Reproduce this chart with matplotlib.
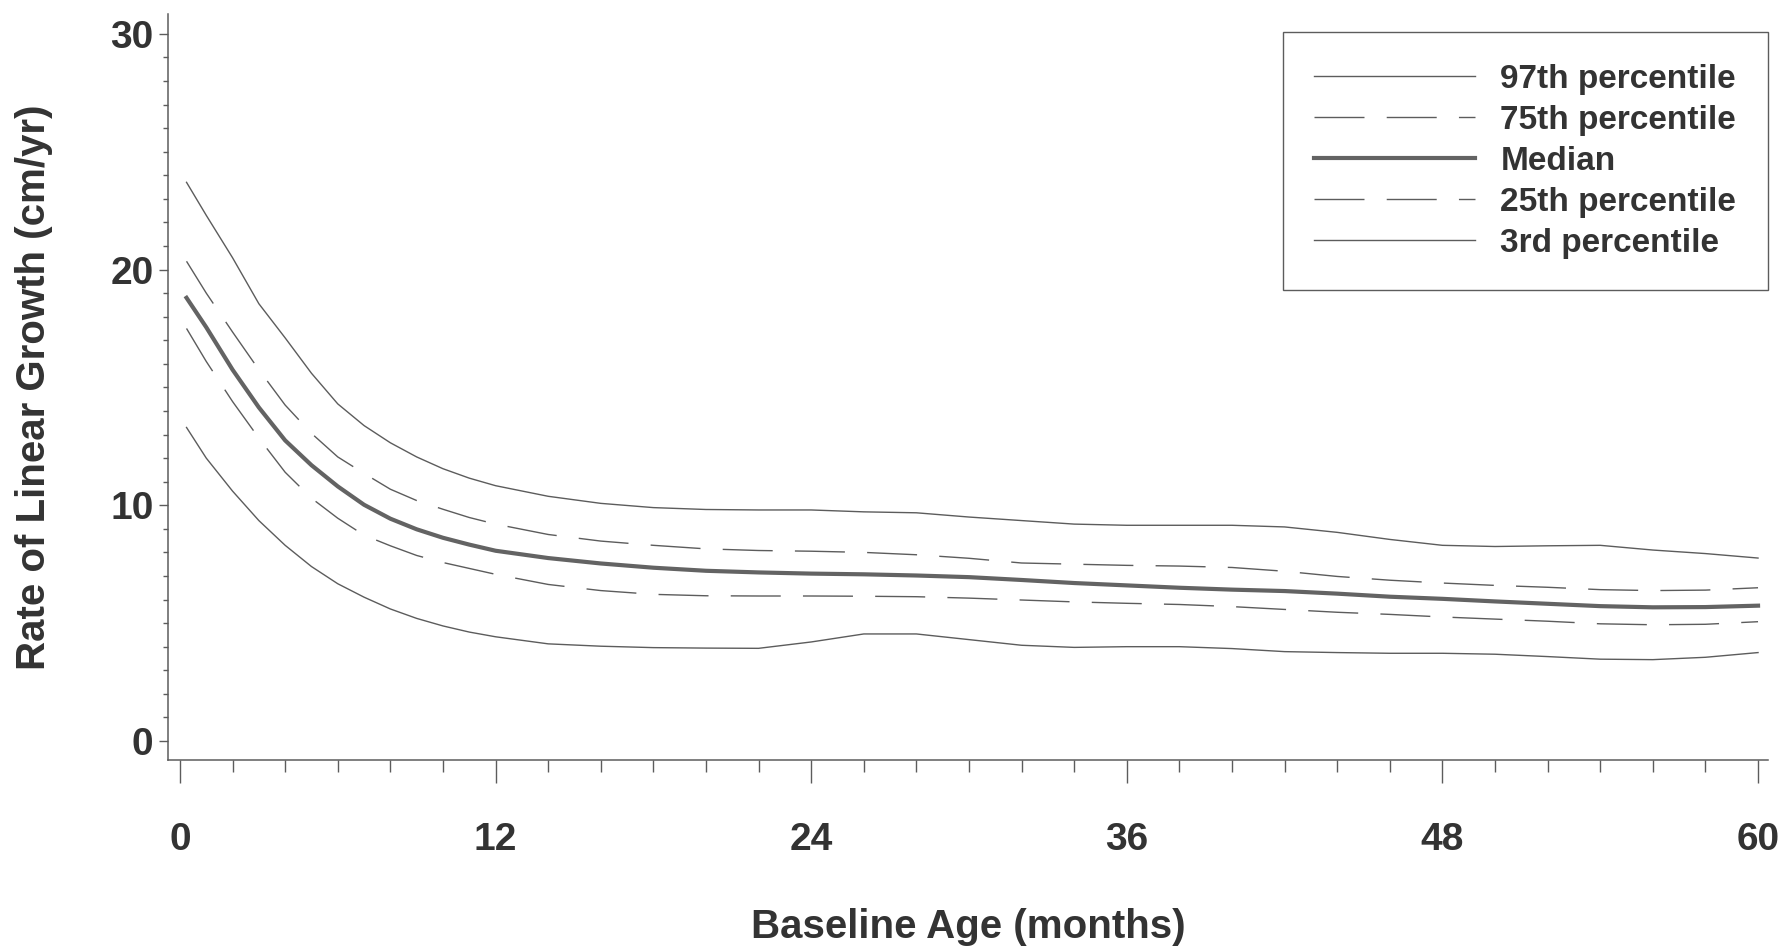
import matplotlib
matplotlib.use('Agg')
import matplotlib.pyplot as plt
from matplotlib.ticker import MultipleLocator

# baseline age (months)
months = [0.25, 1, 2, 3, 4, 5, 6, 7, 8, 9, 10, 11, 12, 14, 16, 18, 20, 22, 24,
          26, 28, 30, 32, 34, 36, 38, 40, 42, 44, 46, 48, 50, 52, 54, 56, 58, 60]

# rate of linear growth (cm/yr)
p97 = [23.7, 22.3, 20.5, 18.55, 17.1, 15.6, 14.3, 13.38, 12.65, 12.05, 11.55, 11.15, 10.83,
       10.38, 10.08, 9.9, 9.82, 9.8, 9.8, 9.72, 9.68, 9.5, 9.35, 9.2, 9.15, 9.15, 9.15,
       9.08, 8.85, 8.55, 8.3, 8.25, 8.28, 8.3, 8.1, 7.95, 7.76]
p75 = [20.35, 19.0, 17.35, 15.75, 14.25, 13.05, 12.05, 11.35, 10.68, 10.2, 9.83, 9.48, 9.2,
       8.76, 8.48, 8.3, 8.15, 8.08, 8.05, 8.0, 7.9, 7.75, 7.55, 7.5, 7.45, 7.42, 7.36,
       7.2, 6.98, 6.82, 6.7, 6.6, 6.52, 6.42, 6.38, 6.4, 6.5]
p50 = [18.8, 17.55, 15.75, 14.15, 12.75, 11.7, 10.8, 10.02, 9.43, 8.98, 8.62, 8.33, 8.07,
       7.76, 7.53, 7.35, 7.22, 7.15, 7.1, 7.07, 7.02, 6.95, 6.83, 6.7, 6.6, 6.5, 6.42,
       6.36, 6.25, 6.12, 6.03, 5.92, 5.82, 5.72, 5.67, 5.68, 5.74]
p25 = [17.5, 16.1, 14.4, 12.85, 11.4, 10.3, 9.45, 8.73, 8.28, 7.87, 7.57, 7.32, 7.07,
       6.64, 6.38, 6.22, 6.16, 6.15, 6.15, 6.14, 6.12, 6.06, 5.98, 5.9, 5.84, 5.79, 5.7,
       5.58, 5.46, 5.37, 5.26, 5.17, 5.08, 4.97, 4.93, 4.95, 5.06]
p3 = [13.3, 12.0, 10.6, 9.35, 8.3, 7.4, 6.67, 6.1, 5.6, 5.2, 4.88, 4.62, 4.42,
      4.12, 4.02, 3.96, 3.94, 3.93, 4.2, 4.54, 4.54, 4.3, 4.06, 3.97, 4.0, 4.0, 3.92,
      3.79, 3.75, 3.72, 3.72, 3.68, 3.58, 3.47, 3.45, 3.55, 3.75]

labels = ['97th percentile', '75th percentile', 'Median', '25th percentile', '3rd percentile']
xticks = [0, 12, 24, 36, 48, 60]
yticks = [0, 10, 20, 30]

plt.rcParams['font.family'] = ['Liberation Sans', 'DejaVu Sans']
plt.rcParams['font.weight'] = 'bold'
ink = '#333333'
line_col = '#5c5c5c'

fig = plt.figure(figsize=(17.83, 9.47), dpi=100)
ax = fig.add_axes([0.0942, 0.1975, 0.8974, 0.7877])

ax.plot(months, p97, color=line_col, lw=1.0, label=labels[0])
ax.plot(months, p75, color=line_col, lw=1.0, dashes=(36, 16), label=labels[1])
ax.plot(months, p50, color='#636363', lw=3.0, label=labels[2])
ax.plot(months, p25, color=line_col, lw=1.0, dashes=(36, 16), label=labels[3])
ax.plot(months, p3, color=line_col, lw=1.0, label=labels[4])

ax.set_xlim(-0.456, 60.38)
ax.set_ylim(-0.806, 30.84)

for s in ['top', 'right']:
    ax.spines[s].set_visible(False)
for s in ['left', 'bottom']:
    ax.spines[s].set_color(line_col)
    ax.spines[s].set_linewidth(1.1)

ax.set_xticks(xticks)
ax.set_yticks(yticks)
ax.xaxis.set_minor_locator(MultipleLocator(2))
ax.yaxis.set_minor_locator(MultipleLocator(1))
ax.tick_params(axis='x', which='major', length=16.5, width=1.0, color=line_col,
               pad=28.5, labelsize=28, labelcolor=ink)
ax.tick_params(axis='x', which='minor', length=8.6, width=1.0, color=line_col)
ax.tick_params(axis='y', which='major', length=6.5, width=1.0, color=line_col,
               pad=4, labelsize=28, labelcolor=ink)
ax.tick_params(axis='y', which='minor', length=3.6, width=1.0, color=line_col)

ax.set_xlabel('Baseline Age (months)', fontsize=29, fontweight='bold', color=ink,
              labelpad=36)
ax.set_ylabel('Rate of Linear Growth (cm/yr)', fontsize=29, fontweight='bold',
              color=ink, labelpad=41)

leg = ax.legend(loc='upper right', bbox_to_anchor=(1.0, 0.976), borderaxespad=0,
                fontsize=24, handlelength=4.83, handletextpad=0.75, labelspacing=0.3,
                borderpad=0.95, fancybox=False, framealpha=1, edgecolor=line_col)
leg.get_frame().set_linewidth(1.0)
for t in leg.get_texts():
    t.set_color(ink)
    t.set_fontweight('bold')

fig.savefig('out.png', dpi=100)
